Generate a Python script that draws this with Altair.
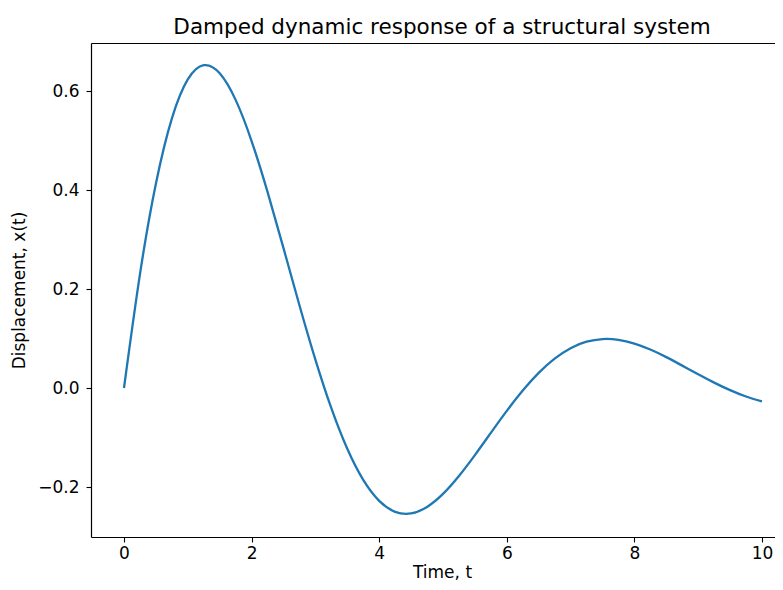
import altair as alt
import pandas as pd

# Values
t_values = [0.0, 0.25, 0.5, 0.75, 1.0, 1.25, 1.5, 1.75, 2.0, 2.25, 2.5, 2.75,
            3.0, 3.25, 3.5, 3.75, 4.0, 4.25, 4.5, 4.75, 5.0, 5.25, 5.5, 5.75,
            6.0, 6.25, 6.5, 6.75, 7.0, 7.25, 7.5, 7.75, 8.0, 8.25, 8.5, 8.75,
            9.0, 9.25, 9.5, 9.75, 10.0]
x_values = [0.0, 0.2295, 0.4127, 0.5443, 0.6234, 0.6522, 0.6360, 0.5821,
            0.4990, 0.3962, 0.2827, 0.1673, 0.0574, -0.0408, -0.1228, -0.1856,
            -0.2279, -0.2501, -0.2534, -0.2403, -0.2140, -0.1778, -0.1355,
            -0.0906, -0.0462, -0.0051, 0.0306, 0.0594, 0.0805, 0.0935, 0.0989,
            0.0973, 0.0897, 0.0777, 0.0624, 0.0452, 0.0277, 0.0109, -0.0043,
            -0.0172, -0.0271]

x_ticks = [0, 2, 4, 6, 8, 10]
y_ticks = [-0.2, 0.0, 0.2, 0.4, 0.6]

df = pd.DataFrame({"t": t_values, "x": x_values})

FONT = "DejaVu Sans"
xscale = alt.Scale(domain=[-0.517, 10.204], nice=False, zero=False)
yscale = alt.Scale(domain=[-0.301, 0.697], nice=False, zero=False)

base = alt.Chart(df)

line = base.mark_line(
    color="#1f77b4", strokeWidth=2.3, interpolate="natural", clip=True
).encode(
    x=alt.X("t:Q", scale=xscale,
            axis=alt.Axis(values=x_ticks, title="Time, t", format="d",
                          labelPadding=3,
                          titleX=351, titleY=27, titleBaseline="top",
                          titleAnchor="start", titleAlign="center")),
    y=alt.Y("x:Q", scale=yscale,
            axis=alt.Axis(values=y_ticks, title="Displacement, x(t)", format=".1f",
                          labelPadding=7,
                          titleX=-67, titleY=247, titleAngle=-90,
                          titleBaseline="alphabetic", titleAlign="center")),
)

# invisible twin layer only to draw the top spine
top_spine = base.mark_line(opacity=0).encode(
    x=alt.X("t:Q", scale=xscale,
            axis=alt.Axis(orient="top", labels=False, ticks=False, title=None,
                          domain=True)),
    y=alt.value(0),
)

chart = alt.layer(line, top_spine).resolve_axis(x="independent").properties(
    width=684,
    height=494,
    title=alt.TitleParams("Damped dynamic response of a structural system",
                          font=FONT, fontSize=21.5, fontWeight="normal",
                          color="black", offset=5, dx=9),
    autosize=alt.AutoSizeParams(type="none"),
    padding={"left": 83, "top": 35, "right": 0, "bottom": 45},
).configure_view(
    stroke=None
).configure_axis(
    domain=True, domainColor="black", domainWidth=1.2, grid=False,
    tickColor="black", tickSize=5, tickWidth=1.1,
    labelFont=FONT, labelFontSize=17, labelColor="black",
    titleFont=FONT, titleFontSize=17, titleColor="black", titleFontWeight="normal",
)

chart.save("out.html", embed_options={"renderer": "svg", "actions": False})
